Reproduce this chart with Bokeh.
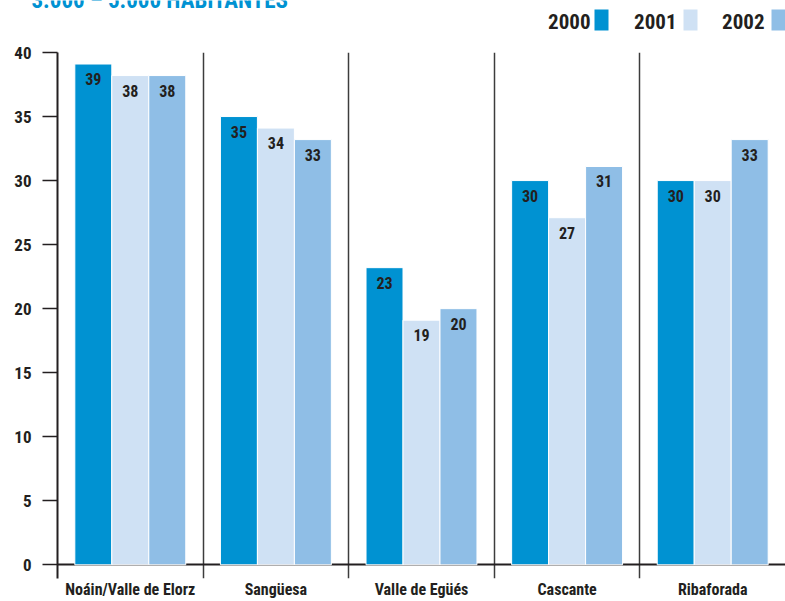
from bokeh.plotting import figure
from bokeh.layouts import column
from bokeh.models import (ColumnDataSource, FactorRange, Range1d, FixedTicker, LabelSet)
from bokeh.transform import dodge
from bokeh.core.properties import value
from bokeh.embed import file_html
from bokeh.resources import INLINE

# ---- data ----
categories = ["Noáin/Valle de Elorz", "Sangüesa", "Valle de Egüés", "Cascante", "Ribaforada"]
years = ["2000", "2001", "2002"]
v2000 = [39.1, 35.0, 23.2, 30.0, 30.0]
v2001 = [38.2, 34.1, 19.1, 27.1, 30.0]
v2002 = [38.2, 33.2, 20.0, 31.1, 33.2]
y_ticks = [0, 5, 10, 15, 20, 25, 30, 35, 40]
title_text = "3.000 – 5.000 HABITANTES"

colors = ["#0092D2", "#CFE1F4", "#8FBEE6"]
INK = "#231F20"
FONT = "'Roboto Condensed', 'DejaVu Sans Condensed', 'Liberation Sans Narrow', sans-serif"

src = ColumnDataSource(dict(
    cat=categories,
    y2000=v2000, y2001=v2001, y2002=v2002,
    l2000=[str(round(v)) for v in v2000],
    l2001=[str(round(v)) for v in v2001],
    l2002=[str(round(v)) for v in v2002],
))

# ---- header: title (cut at page top) and legend ----
HEAD_H = 44
W = 785
hdr = figure(width=W, height=HEAD_H, x_range=Range1d(0, W), y_range=Range1d(HEAD_H, 0),
             output_backend="svg", toolbar_location=None,
             x_axis_location=None, y_axis_location=None,
             min_border_left=0, min_border_right=0, min_border_top=0, min_border_bottom=0)
hdr.frame_align = False
hdr.outline_line_color = None
hdr.xgrid.visible = False
hdr.ygrid.visible = False

hdr.text(x=[31], y=[-0.5], text=[title_text], text_baseline="middle",
         text_font=value(FONT), text_font_size="23px", text_font_style="bold",
         text_color="#0092D2")

leg_text_x = [590, 676, 764]
leg_box_l = [594, 683, 771]
hdr.text(x=leg_text_x, y=[20.5, 20.5, 20.5], text=years, text_align="right",
         text_baseline="middle", text_font=value(FONT), text_font_size="21px",
         text_font_style="bold", text_color=INK)
hdr.quad(left=leg_box_l, right=[l + 14 for l in leg_box_l], top=[9, 9, 9],
         bottom=[30, 30, 30], fill_color=colors, line_color=None)

# ---- main chart ----
p = figure(x_range=FactorRange(*categories), y_range=Range1d(-1.07, 40),
           width=W, height=601 - HEAD_H, output_backend="svg", toolbar_location=None,
           min_border_left=57, min_border_right=0, min_border_top=8,
           min_border_bottom=13)
p.frame_align = False
p.outline_line_color = None

bw = 0.254
offsets = [-bw, 0.0, bw]
for yr, off, col in zip(years, offsets, colors):
    p.vbar(x=dodge("cat", off, range=p.x_range), top="y" + yr, width=bw,
           source=src, fill_color=col, line_color="white", line_width=1)
    p.add_layout(LabelSet(x=dodge("cat", off, range=p.x_range), y="y" + yr,
                          text="l" + yr, source=src, text_align="center",
                          text_baseline="middle", y_offset=-15,
                          text_font=value(FONT), text_font_size="16px",
                          text_font_style="bold", text_color=INK))

ya = p.yaxis[0]
ya.ticker = FixedTicker(ticks=y_ticks)
ya.major_tick_out = 15
ya.major_tick_in = 0
ya.minor_tick_line_color = None
ya.major_tick_line_color = INK
ya.major_tick_line_width = 1.5
ya.axis_line_color = INK
ya.axis_line_width = 2
ya.major_label_standoff = 11
ya.major_label_text_font = FONT
ya.major_label_text_font_size = "17px"
ya.major_label_text_font_style = "bold"
ya.major_label_text_color = INK

xa = p.xaxis[0]
xa.axis_line_color = None
xa.major_tick_line_color = None
xa.minor_tick_line_color = None
xa.major_label_standoff = -5
xa.major_label_text_font = FONT
xa.major_label_text_font_size = "16px"
xa.major_label_text_font_style = "bold"
xa.major_label_text_color = INK

p.xgrid.ticker = FixedTicker(ticks=[1, 2, 3, 4])
p.xgrid.grid_line_color = "#3c3c3c"
p.xgrid.grid_line_width = 1.5
p.ygrid.ticker = FixedTicker(ticks=[0, 40])
p.ygrid.grid_line_color = INK
p.ygrid.grid_line_width = 2

layout = column(hdr, p, spacing=0)
open("out.html", "w").write(file_html(layout, INLINE))
